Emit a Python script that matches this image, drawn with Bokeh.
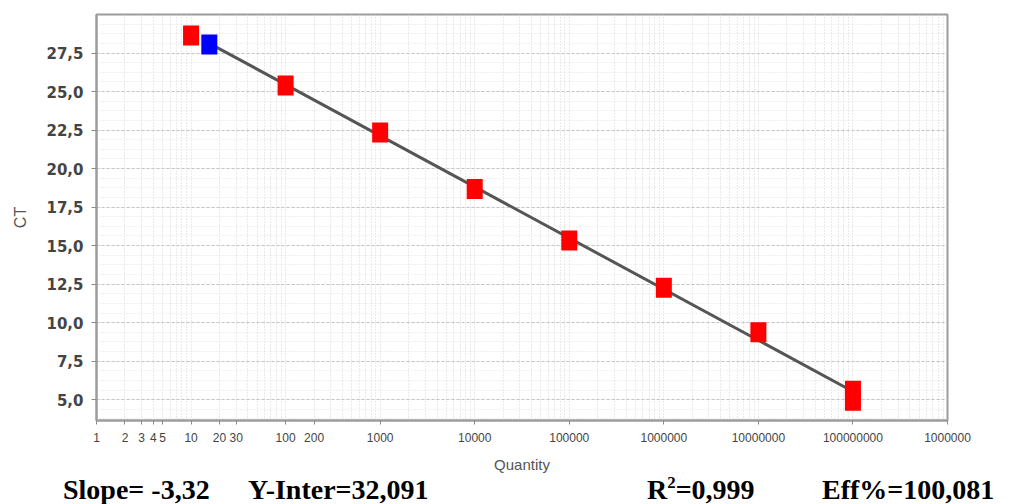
from bokeh.plotting import figure
from bokeh.models import Range1d, FixedTicker, CustomJSTickFormatter, Grid, Div
from bokeh.layouts import column
from bokeh.embed import file_html
from bokeh.resources import INLINE

# ---------------- data ----------------
std_quantity = [10, 100, 1000, 10000, 100000, 1000000, 10000000, 100000000, 100000000]
std_ct = [28.63, 25.39, 22.34, 18.68, 15.34, 12.26, 9.37, 5.58, 4.93]
unk_quantity = [15.6]
unk_ct = [28.05]
fit_quantity = [15.6, 100000000]
fit_ct = [28.13, 5.53]

x_tick_values = [1, 2, 3, 4, 5, 10, 20, 30, 100, 200, 1000, 10000, 100000,
                 1000000, 10000000, 100000000, 1000000000]
x_tick_labels = ["1", "2", "3", "4", "5", "10", "20", "30", "100", "200", "1000",
                 "10000", "100000", "1000000", "10000000", "100000000", "1000000"]
y_tick_values = [5.0, 7.5, 10.0, 12.5, 15.0, 17.5, 20.0, 22.5, 25.0, 27.5]
y_tick_labels = ["5,0", "7,5", "10,0", "12,5", "15,0", "17,5", "20,0", "22,5", "25,0", "27,5"]

SUP2 = ("<span style='font-size:60%;position:relative;top:-0.65em;"
        "line-height:0;vertical-align:baseline;'>2</span>")
stats_texts = ["Slope= -3,32", "Y-Inter=32,091", "R" + SUP2 + "=0,999", "Eff%=100,081"]

# ---------------- layout ----------------
W, H = 1000, 476
FL, FR, FT, FB = 96, 53, 14, 56
X0, X1 = 1, 1e9
Y0, Y1 = 3.65, 30.0

p = figure(width=W, height=H, x_axis_type="log",
           x_range=Range1d(X0, X1), y_range=Range1d(Y0, Y1),
           output_backend="svg", toolbar_location=None,
           min_border_left=FL, min_border_right=FR,
           min_border_top=FT, min_border_bottom=FB)

p.background_fill_color = "white"
p.border_fill_color = "white"
p.outline_line_color = "#9c9c9c"
p.outline_line_width = 2

# grids
grid_x = [m * 10 ** d for d in range(0, 9) for m in range(1, 10)] + [1e9]
grid_y = [3.75 + 0.625 * k for k in range(43)]
p.xgrid.ticker = FixedTicker(ticks=grid_x)
p.xgrid.grid_line_color = "#d4d4d4"
p.xgrid.grid_line_dash = "1 2"
p.xgrid.grid_line_width = 1
p.ygrid.ticker = FixedTicker(ticks=grid_y)
p.ygrid.grid_line_color = "#e0e0e0"
p.ygrid.grid_line_dash = "1 2"
p.ygrid.grid_line_width = 1
p.add_layout(Grid(dimension=1, ticker=FixedTicker(ticks=y_tick_values),
                  grid_line_color="#c4c4c4", grid_line_dash="3 2", grid_line_width=1))

# x axis
xa = p.xaxis[0]
xa.ticker = FixedTicker(ticks=x_tick_values, minor_ticks=[])
xa.formatter = CustomJSTickFormatter(args=dict(v=x_tick_values, l=x_tick_labels),
                                     code="const i = v.indexOf(tick); return i >= 0 ? l[i] : '';")
xa.axis_line_color = "#9c9c9c"
xa.axis_line_width = 2
xa.major_tick_line_color = "#8a8a8a"
xa.major_tick_out = 4
xa.major_tick_in = 0
xa.minor_tick_line_color = None
xa.major_label_standoff = 8
xa.major_label_text_font = "Liberation Sans"
xa.major_label_text_font_size = "12px"
xa.major_label_text_color = "#444444"
xa.axis_label = "Quantity"
xa.axis_label_text_font = "Liberation Sans"
xa.axis_label_text_font_style = "normal"
xa.axis_label_text_font_size = "15px"
xa.axis_label_text_color = "#555555"
xa.axis_label_standoff = 11

# y axis
ya = p.yaxis[0]
ya.ticker = FixedTicker(ticks=y_tick_values, minor_ticks=[])
ya.formatter = CustomJSTickFormatter(args=dict(v=y_tick_values, l=y_tick_labels),
                                     code="const i = v.indexOf(tick); return i >= 0 ? l[i] : '';")
ya.axis_line_color = "#9c9c9c"
ya.axis_line_width = 2
ya.major_tick_line_color = "#8a8a8a"
ya.major_tick_out = 5
ya.major_tick_in = 0
ya.minor_tick_line_color = None
ya.major_label_standoff = 8
ya.major_label_text_font = "DejaVu Sans"
ya.major_label_text_font_style = "bold"
ya.major_label_text_font_size = "15px"
ya.major_label_text_color = "#444444"
ya.axis_label = "CT"
ya.axis_label_text_font = "Liberation Sans"
ya.axis_label_text_font_style = "normal"
ya.axis_label_text_font_size = "16px"
ya.axis_label_text_color = "#555555"
ya.axis_label_standoff = 14

# fit line and points
p.line(fit_quantity, fit_ct, line_color="#555555", line_width=3)
p.rect(std_quantity, std_ct, width=16, height=20, width_units="screen", height_units="screen",
       fill_color="#ff0000", line_color=None)
p.rect(unk_quantity, unk_ct, width=16, height=20, width_units="screen", height_units="screen",
       fill_color="#0000ff", line_color=None)

# statistics line under the chart
stats_left_px = [63, 248, 647, 822]
spans = "".join(
    f"<span style='position:absolute;left:{px}px;top:0px;white-space:nowrap;'>{txt}</span>"
    for txt, px in zip(stats_texts, stats_left_px))
html = ("<div style=\"position:relative;width:1000px;height:28px;"
        "font-family:'Liberation Serif','Times New Roman',serif;font-weight:bold;"
        "font-size:28px;line-height:27px;color:#000;\">" + spans + "</div>")
stats = Div(text=html, width=W, height=28, margin=0)

layout = column(p, stats, spacing=0)
open("out.html", "w").write(file_html(layout, INLINE))
